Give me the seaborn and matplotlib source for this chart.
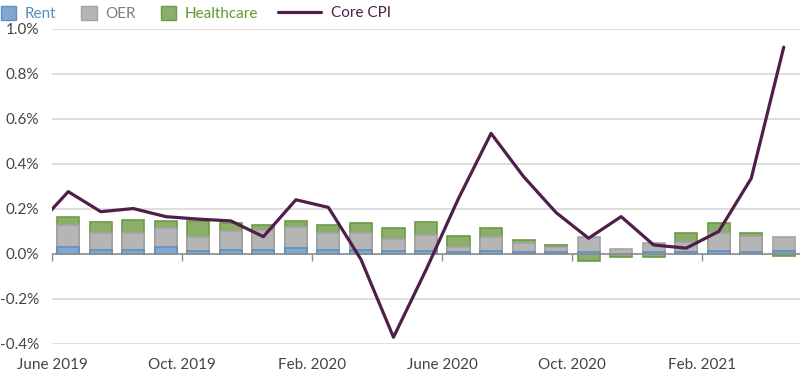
import numpy as np
import pandas as pd
import matplotlib
matplotlib.use("Agg")
import matplotlib.pyplot as plt
from matplotlib.patches import Patch
from matplotlib.lines import Line2D
import seaborn as sns

# monthly contributions to core CPI (percent)
months = ["Jun 2019", "Jul 2019", "Aug 2019", "Sep 2019", "Oct 2019", "Nov 2019",
          "Dec 2019", "Jan 2020", "Feb 2020", "Mar 2020", "Apr 2020", "May 2020",
          "Jun 2020", "Jul 2020", "Aug 2020", "Sep 2020", "Oct 2020", "Nov 2020",
          "Dec 2020", "Jan 2021", "Feb 2021", "Mar 2021", "Apr 2021"]
rent = [0.033, 0.019, 0.019, 0.033, 0.012, 0.019, 0.019, 0.027, 0.019, 0.019, 0.013, 0.013,
        0.008, 0.013, 0.008, 0.008, 0.008, 0.0, 0.008, 0.008, 0.013, 0.008, 0.013]
oer = [0.097, 0.076, 0.076, 0.083, 0.062, 0.085, 0.087, 0.094, 0.076, 0.076, 0.054, 0.073,
       0.025, 0.061, 0.039, 0.025, 0.066, 0.022, 0.039, 0.044, 0.082, 0.073, 0.061]
healthcare = [0.033, 0.046, 0.058, 0.032, 0.074, 0.032, 0.024, 0.027, 0.034, 0.041, 0.049, 0.056,
              0.047, 0.042, 0.015, 0.007, -0.030, -0.013, -0.013, 0.043, 0.041, 0.014, -0.008]
# core CPI line starts one month earlier (May 2019), clipped at the left edge
cpi_months = ["May 2019"] + months
core_cpi = [0.12, 0.277, 0.188, 0.202, 0.166, 0.155, 0.147, 0.077, 0.241, 0.207, -0.024, -0.37,
            -0.071, 0.247, 0.536, 0.344, 0.184, 0.07, 0.166, 0.04, 0.026, 0.10, 0.336, 0.919]
tick_labels = ["June 2019", "Oct. 2019", "Feb. 2020", "June 2020", "Oct. 2020", "Feb. 2021"]

df = pd.DataFrame({"month": months, "rent": rent, "oer": oer, "hc": healthcare})
df["ro"] = df.rent + df.oer
df["hc_bar"] = np.where(df.hc > 0, df.ro + df.hc, df.hc)

sns.set_style("white")
plt.rcParams["font.family"] = ["Lato", "DejaVu Sans"]

c_rent, e_rent = "#80a7d0", "#5f8fc2"
c_oer, e_oer = "#b5b5b5", "#a3a3a3"
c_hc, e_hc = "#8cae6b", "#6d9a45"
c_cpi = "#4e1f48"

fig = plt.figure(figsize=(8, 3.75), dpi=100)
ax = fig.add_axes([0.065, 0.0827, 0.935, 0.84])

w = 0.68
sns.barplot(data=df, x="month", y="hc_bar", color=c_hc, edgecolor=e_hc, linewidth=1.2,
            width=w, saturation=1, ax=ax, zorder=2)
sns.barplot(data=df, x="month", y="ro", color=c_oer, edgecolor=e_oer, linewidth=1.2,
            width=w, saturation=1, ax=ax, zorder=3)
sns.barplot(data=df, x="month", y="rent", color=c_rent, edgecolor=e_rent, linewidth=1.2,
            width=w, saturation=1, ax=ax, zorder=4)

sns.lineplot(x=np.arange(-1, len(months)), y=core_cpi, color=c_cpi, lw=2.3, ax=ax, zorder=6)

ax.set_xlim(-0.5, len(months) - 0.5)
ax.set_ylim(-0.4, 1.0)
ax.set_yticks(np.arange(-0.4, 1.01, 0.2))
ax.set_yticklabels([f"{v:.1f}%" for v in np.arange(-0.4, 1.01, 0.2)])
ax.yaxis.grid(True, color="#dedede", lw=1.4, zorder=0)
ax.axhline(0, color="#8f8f8f", lw=1.2, zorder=5)
for s in ax.spines.values():
    s.set_visible(False)

tick_pos = np.arange(-0.5, len(months), 4)
ax.set_xticks(tick_pos)
ax.set_xticklabels(tick_labels)
ax.set_xlabel("")
ax.set_ylabel("")
ax.tick_params(axis="x", length=0, pad=10, labelsize=11, labelcolor="#444444")
ax.tick_params(axis="y", length=0, pad=9, labelsize=11, labelcolor="#444444")

# tick marks on the zero line
sec = ax.secondary_xaxis(0.4 / 1.4)
sec.set_xticks(tick_pos)
sec.tick_params(axis="x", direction="out", length=5, width=1, color="#8f8f8f", labelbottom=False)
sec.spines["bottom"].set_visible(False)

# legend: squares for the bars, a longer line for core CPI
bar_handles = [Patch(facecolor=c_rent, edgecolor=e_rent),
               Patch(facecolor=c_oer, edgecolor=e_oer),
               Patch(facecolor=c_hc, edgecolor=e_hc)]
leg1 = fig.legend(bar_handles, ["Rent", "OER", "Healthcare"], loc="upper left",
                  bbox_to_anchor=(-0.016, 1.02), ncol=3, frameon=False, fontsize=11,
                  handlelength=1.0, handleheight=1.0, handletextpad=0.55, columnspacing=1.65)
for t, c in zip(leg1.get_texts(), ["#5b8cc0", "#7f7f7f", "#5e9a2e"]):
    t.set_color(c)
leg2 = fig.legend([Line2D([0], [0], color=c_cpi, lw=2.3)], ["Core CPI"], loc="upper left",
                  bbox_to_anchor=(0.33, 1.02), frameon=False, fontsize=11,
                  handlelength=2.8, handletextpad=0.7)
leg2.get_texts()[0].set_color(c_cpi)

fig.savefig("out.png", dpi=100)
